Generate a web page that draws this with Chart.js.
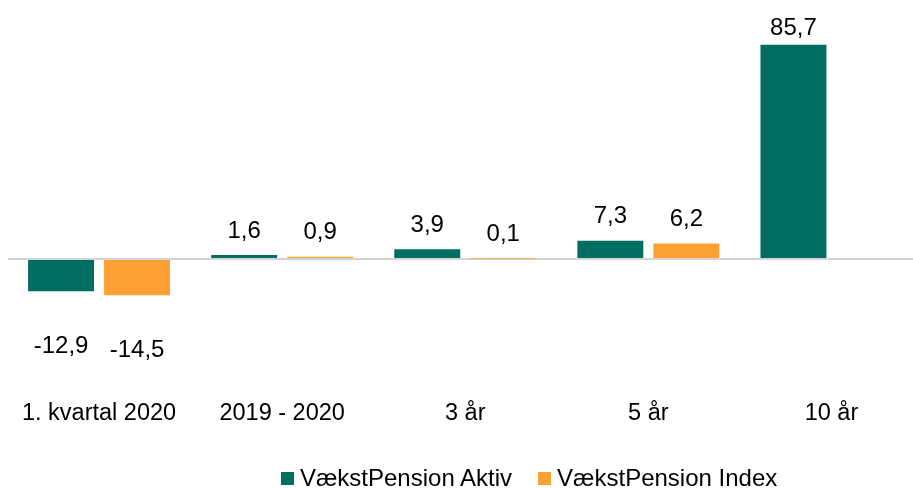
<!DOCTYPE html>
<html>
<head>
<meta charset="utf-8">
<script src="https://cdn.jsdelivr.net/npm/chart.js@4"></script>
<style>
  body { margin: 0; overflow: hidden; background: #fff; font-family: "Liberation Sans", Arial, sans-serif; }
  #wrap { position: relative; width: 923px; height: 489px; }
  #legend { position: absolute; left: 281px; top: 464px; font-size: 24px; color: #000; white-space: nowrap; }
  #legend span.box { display: inline-block; width: 13px; height: 13px; margin-right: 6px; vertical-align: 1px; }
  #legend span.item { margin-right: 26px; }
</style>
</head>
<body>
<div id="wrap">
  <canvas id="chart"></canvas>
  <div id="legend"></div>
</div>
<script>
const categories = ['1. kvartal 2020', '2019 - 2020', '3 år', '5 år', '10 år'];
const aktiv = [-12.9, 1.6, 3.9, 7.3, 85.7];
const index = [-14.5, 0.9, 0.1, 6.2, null];
const seriesNames = ['VækstPension Aktiv', 'VækstPension Index'];
const colors = ['#006e61', '#ffa033'];

const font = '"Liberation Sans", Arial, sans-serif';

const valueLabels = {
  id: 'valueLabels',
  afterDatasetsDraw(chart) {
    const ctx = chart.ctx;
    ctx.save();
    ctx.font = '24px ' + font;
    ctx.fillStyle = '#000';
    ctx.textAlign = 'center';
    ctx.textBaseline = 'middle';
    chart.data.datasets.forEach((ds, di) => {
      chart.getDatasetMeta(di).data.forEach((bar, i) => {
        const v = ds.data[i];
        if (v === null) return;
        const y = v >= 0 ? Math.max(bar.y - 24, 28) : bar.y + 55;
        ctx.fillText(v.toFixed(1).replace('.', ','), bar.x, y);
      });
    });
    ctx.restore();
  }
};

new Chart(document.getElementById('chart'), {
  type: 'bar',
  data: {
    labels: categories,
    datasets: [
      { label: seriesNames[0], data: aktiv, backgroundColor: colors[0] },
      { label: seriesNames[1], data: index, backgroundColor: colors[1] }
    ]
  },
  options: {
    responsive: true,
    maintainAspectRatio: false,
    animation: false,
    categoryPercentage: 0.83,
    barPercentage: 0.868,
    layout: { padding: { top: 21.5, left: 7.5, right: 0, bottom: 55 } },
    plugins: {
      legend: { display: false },
      tooltip: { enabled: false }
    },
    scales: {
      x: {
        grid: { display: false, drawTicks: false },
        border: { display: false },
        ticks: { color: '#000', font: { family: font, size: 23.5 }, padding: 5, maxRotation: 0, autoSkip: false },
        afterFit: s => { s.height = 40; }
      },
      y: {
        min: -54,
        max: 95,
        ticks: { display: false, stepSize: 1 },
        border: { display: false },
        grid: {
          drawTicks: false,
          color: c => c.tick.value === 0 ? '#d4d4d4' : 'rgba(0,0,0,0)',
          lineWidth: c => c.tick.value === 0 ? 2 : 0
        }
      }
    }
  },
  plugins: [valueLabels]
});

document.getElementById('legend').innerHTML = seriesNames.map((n, i) =>
  '<span class="item"><span class="box" style="background:' + colors[i] + '"></span>' + n + '</span>'
).join('');
</script>
</body>
</html>
